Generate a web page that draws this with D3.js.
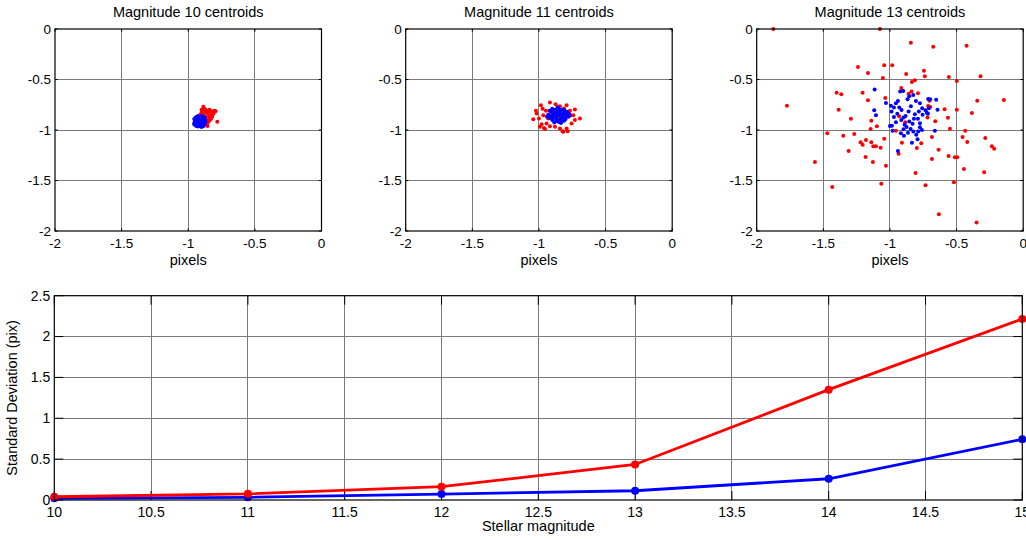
<!DOCTYPE html>
<html>
<head>
<meta charset="utf-8">
<script src="https://cdn.jsdelivr.net/npm/d3@7"></script>
<style>
	body { margin: 0; background: #fff; }
	svg { display: block; font-family: Arial, "Liberation Sans", sans-serif; }
	.grid line { stroke: #7a7a7a; stroke-width: 1; shape-rendering: crispEdges; }
</style>
</head>
<body>
<svg id="chart" width="1026" height="540"></svg>
<script>
// ---- data ----
var magnitudes = [10, 11, 12, 13, 14, 15];
var stdRed = [0.04, 0.075, 0.163, 0.435, 1.35, 2.215];
var stdBlue = [0.02, 0.033, 0.072, 0.113, 0.26, 0.743];

var scatterTitles = ["Magnitude 10 centroids", "Magnitude 11 centroids", "Magnitude 13 centroids"];
var pixelTicks = [-2, -1.5, -1, -0.5, 0];
var magTicks = [10, 10.5, 11, 11.5, 12, 12.5, 13, 13.5, 14, 14.5, 15];
var stdTicks = [0, 0.5, 1, 1.5, 2, 2.5];

var red10 = [[-0.887,-0.769],[-0.88,-0.79],[-0.87,-0.80],[-0.86,-0.81],[-0.85,-0.82],[-0.84,-0.80],[-0.83,-0.82],
	[-0.82,-0.83],[-0.80,-0.81],[-0.795,-0.815],[-0.81,-0.84],[-0.83,-0.85],[-0.85,-0.86],[-0.84,-0.88],[-0.82,-0.87],
	[-0.86,-0.90],[-0.85,-0.92],[-0.87,-0.94],[-0.86,-0.95],[-0.89,-0.84],[-0.90,-0.83],[-0.91,-0.85],[-0.92,-0.86],
	[-0.935,-0.87],[-0.88,-0.86],[-0.87,-0.88],[-0.84,-0.905],[-0.83,-0.89],[-0.782,-0.918],[-0.86,-0.83],
	[-0.875,-0.82],[-0.90,-0.80],[-0.895,-0.82],[-0.855,-0.96],[-0.815,-0.815]];
var blue10 = [[-0.916,-0.916],[-0.90,-0.90],[-0.93,-0.93],[-0.95,-0.91],[-0.88,-0.92],[-0.92,-0.87],[-0.91,-0.96],
	[-0.94,-0.88],[-0.89,-0.88],[-0.885,-0.95],[-0.945,-0.95],[-0.955,-0.93],[-0.875,-0.90],[-0.90,-0.97],
	[-0.93,-0.865],[-0.90,-0.86],[-0.875,-0.935],[-0.955,-0.89],[-0.925,-0.965],[-0.895,-0.94],[-0.935,-0.905],
	[-0.905,-0.925],[-0.92,-0.895],[-0.885,-0.905],[-0.945,-0.875],[-0.875,-0.875],[-0.94,-0.96],[-0.885,-0.96],
	[-0.955,-0.945],[-0.87,-0.915],[-0.915,-0.94],[-0.93,-0.95]];

var red11 = [[-1.0225,-0.81],[-0.985,-0.754],[-0.9725,-0.79],[-0.9175,-0.727],[-0.875,-0.744],[-0.8425,-0.764],
	[-0.7925,-0.754],[-0.7675,-0.81],[-0.73,-0.797],[-0.7875,-0.836],[-0.6925,-0.886],[-1.0425,-0.893],[-1.0,-0.886],
	[-0.98,-0.942],[-0.9925,-0.969],[-0.9625,-0.979],[-0.9425,-0.936],[-0.9175,-0.962],[-0.88,-0.969],[-0.8425,-0.985],
	[-0.8225,-1.012],[-0.7925,-0.985],[-0.785,-1.012],[-0.755,-0.936],[-0.9675,-0.853],[-0.9475,-0.81],[-0.7625,-0.853],
	[-0.7425,-0.853],[-0.8925,-0.803],[-0.8125,-0.787],[-0.93,-0.886],[-0.73,-0.902],[-1.0175,-0.836],[-0.954,-0.991],
	[-0.817,-1.018]];
var blue11 = [[-0.855,-0.85],[-0.87,-0.83],[-0.84,-0.87],[-0.82,-0.84],[-0.89,-0.86],[-0.88,-0.80],[-0.85,-0.79],
	[-0.83,-0.80],[-0.81,-0.82],[-0.79,-0.85],[-0.78,-0.87],[-0.80,-0.89],[-0.82,-0.91],[-0.85,-0.92],[-0.87,-0.91],
	[-0.90,-0.90],[-0.92,-0.88],[-0.93,-0.85],[-0.91,-0.82],[-0.90,-0.79],[-0.86,-0.775],[-0.84,-0.815],[-0.86,-0.81],
	[-0.88,-0.845],[-0.90,-0.87],[-0.87,-0.885],[-0.84,-0.895],[-0.82,-0.875],[-0.80,-0.86],[-0.83,-0.855],
	[-0.865,-0.865],[-0.845,-0.835],[-0.875,-0.815],[-0.895,-0.835],[-0.915,-0.86],[-0.94,-0.87],[-0.775,-0.84],
	[-0.81,-0.80],[-0.835,-0.93],[-0.885,-0.925],[-0.86,-0.90],[-0.81,-0.905],[-0.79,-0.82],[-0.92,-0.81],
	[-0.895,-0.885],[-0.77,-0.86]];

var red13 = [[-1.875,0],[-1.075,0],[-0.843,-0.135],[-0.675,-0.175],[-0.425,-0.165],[-1.24,-0.376],[-1.165,-0.436],
	[-1.043,-0.36],[-0.983,-0.36],[-1.053,-0.485],[-0.878,-0.446],[-0.745,-0.413],[-0.738,-0.469],[-0.558,-0.475],
	[-0.498,-0.515],[-0.32,-0.469],[-0.835,-0.525],[-0.813,-0.508],[-0.915,-0.584],[-0.838,-0.62],[-0.86,-0.64],
	[-0.79,-0.637],[-1.4,-0.63],[-1.365,-0.647],[-1.205,-0.63],[-1.035,-0.683],[-1.165,-0.706],[-1.773,-0.759],
	[-1.385,-0.8],[-0.703,-0.71],[-0.713,-0.762],[-0.698,-0.772],[-0.59,-0.795],[-0.498,-0.8],[-0.345,-0.71],
	[-0.145,-0.703],[-0.385,-0.832],[-1.293,-0.888],[-1.14,-0.908],[-1.145,-0.99],[-1.098,-0.964],[-0.93,-0.865],
	[-0.885,-0.924],[-0.718,-0.875],[-0.66,-0.914],[-0.565,-0.878],[-0.55,-0.987],[-0.435,-1.007],[-1.47,-1.033],
	[-1.35,-1.056],[-1.268,-1.04],[-1.043,-1.086],[-0.955,-1.007],[-0.91,-1.125],[-0.765,-1.132],[-0.685,-1.069],
	[-0.635,-1.195],[-0.455,-1.069],[-0.42,-1.119],[-0.285,-1.079],[-0.235,-1.162],[-0.218,-1.185],[-1.22,-1.122],
	[-1.205,-1.145],[-1.18,-1.099],[-1.14,-1.122],[-1.125,-1.162],[-1.105,-1.162],[-1.07,-1.175],[-1.31,-1.208],
	[-1.183,-1.267],[-1.128,-1.317],[-1.03,-1.353],[-0.935,-1.234],[-0.798,-1.178],[-0.685,-1.287],[-0.56,-1.257],
	[-0.513,-1.27],[-0.495,-1.27],[-0.445,-1.386],[-1.563,-1.317],[-1.433,-1.564],[-1.065,-1.531],[-0.808,-1.426],
	[-0.733,-1.548],[-0.52,-1.518],[-0.293,-1.419],[-0.633,-1.835],[-0.35,-1.917]];
var blue13 = [[-1.115,-0.6],[-1.118,-0.805],[-1.105,-0.855],[-1.03,-0.733],[-0.993,-0.759],[-0.97,-0.776],
	[-0.955,-0.736],[-0.93,-0.776],[-0.94,-0.713],[-0.923,-0.62],[-0.9,-0.614],[-0.868,-0.696],[-0.855,-0.667],
	[-0.825,-0.653],[-0.843,-0.766],[-0.805,-0.713],[-0.775,-0.736],[-0.758,-0.785],[-0.755,-0.848],[-0.733,-0.805],
	[-0.713,-0.693],[-0.698,-0.696],[-0.653,-0.7],[-0.643,-0.799],[-0.663,-1.007],[-0.708,-0.785],[-0.723,-0.828],
	[-0.715,-0.838],[-0.988,-0.818],[-0.97,-0.871],[-0.985,-0.957],[-1.0,-0.96],[-0.98,-1.007],[-0.955,-0.924],
	[-0.915,-0.901],[-0.898,-0.875],[-0.883,-0.861],[-0.89,-0.947],[-0.875,-0.97],[-0.898,-0.993],[-0.918,-1.033],
	[-0.895,-1.056],[-0.865,-1.026],[-0.845,-0.99],[-0.83,-0.937],[-0.855,-0.917],[-0.82,-0.888],[-0.813,-0.845],
	[-0.79,-0.888],[-0.775,-0.934],[-0.775,-0.974],[-0.788,-1.016],[-0.803,-1.046],[-0.835,-1.125],[-0.793,-1.092],
	[-0.76,-1.0],[-0.825,-1.016],[-0.94,-1.208],[-0.86,-0.818],[-0.913,-0.802],[-0.945,-0.838],[-0.783,-0.818]];

var scatterReds = [red10, red11, red13];
var scatterBlues = [blue10, blue11, blue13];

// ---- layout ----
var svg = d3.select("#chart");
var fmt = function(d) { return String(d); };
var panelLefts = [55, 405.7, 756.7];
var panelW = 266.5, panelTop = 29, panelH = 202;

function drawBox(g, w, h, xScale, yScale, xTicks, yTicks, tickLen) {
	// grid
	g.append("g").attr("class", "grid")
		.selectAll("line.v").data(xTicks.slice(1, -1)).enter().append("line")
		.attr("x1", function(d) { return xScale(d); }).attr("x2", function(d) { return xScale(d); })
		.attr("y1", 0).attr("y2", h);
	g.append("g").attr("class", "grid")
		.selectAll("line.h").data(yTicks.slice(1, -1)).enter().append("line")
		.attr("y1", function(d) { return yScale(d); }).attr("y2", function(d) { return yScale(d); })
		.attr("x1", 0).attr("x2", w);

	// inward ticks on all sides
	var ticks = g.append("g").attr("stroke", "#000").attr("stroke-width", 1);
	xTicks.forEach(function(d) {
		ticks.append("line").attr("x1", xScale(d)).attr("x2", xScale(d)).attr("y1", h).attr("y2", h - tickLen);
		ticks.append("line").attr("x1", xScale(d)).attr("x2", xScale(d)).attr("y1", 0).attr("y2", tickLen);
	});
	yTicks.forEach(function(d) {
		ticks.append("line").attr("y1", yScale(d)).attr("y2", yScale(d)).attr("x1", 0).attr("x2", tickLen);
		ticks.append("line").attr("y1", yScale(d)).attr("y2", yScale(d)).attr("x1", w).attr("x2", w - tickLen);
	});
}

function drawFrame(g, w, h) {
	g.append("rect").attr("width", w).attr("height", h)
		.attr("fill", "none").attr("stroke", "#000").attr("stroke-width", 1.2);
}

function tickLabels(g, w, h, xScale, yScale, xTicks, yTicks, size) {
	g.append("g").selectAll("text").data(xTicks).enter().append("text")
		.attr("x", function(d) { return xScale(d); })
		.attr("y", h + 17)
		.attr("text-anchor", "middle")
		.attr("font-size", size)
		.text(fmt);
	g.append("g").selectAll("text").data(yTicks).enter().append("text")
		.attr("x", -4)
		.attr("y", function(d) { return yScale(d); })
		.attr("dy", "0.35em")
		.attr("text-anchor", "end")
		.attr("font-size", size)
		.text(fmt);
}

// ---- scatter panels ----
scatterTitles.forEach(function(title, i) {
	var g = svg.append("g").attr("transform", "translate(" + panelLefts[i] + "," + panelTop + ")");
	var x = d3.scaleLinear().domain([-2, 0]).range([0, panelW]);
	var y = d3.scaleLinear().domain([-2, 0]).range([panelH, 0]);

	drawBox(g, panelW, panelH, x, y, pixelTicks, pixelTicks, 2.7);

	g.append("g").selectAll("circle").data(scatterReds[i]).enter().append("circle")
		.attr("cx", function(d) { return x(d[0]); })
		.attr("cy", function(d) { return y(d[1]); })
		.attr("r", 2)
		.attr("fill", "#ff0000");
	g.append("g").selectAll("circle").data(scatterBlues[i]).enter().append("circle")
		.attr("cx", function(d) { return x(d[0]); })
		.attr("cy", function(d) { return y(d[1]); })
		.attr("r", 2)
		.attr("fill", "#0000ff");

	drawFrame(g, panelW, panelH);
	tickLabels(g, panelW, panelH, x, y, pixelTicks, pixelTicks, 13.5);

	g.append("text").attr("x", panelW / 2).attr("y", -12)
		.attr("text-anchor", "middle").attr("font-size", 14.5).text(title);
	g.append("text").attr("x", panelW / 2).attr("y", panelH + 34)
		.attr("text-anchor", "middle").attr("font-size", 14.5).text("pixels");
});

// ---- std deviation panel ----
var bLeft = 54.3, bTop = 295.7, bW = 968, bH = 204.3;
var gb = svg.append("g").attr("transform", "translate(" + bLeft + "," + bTop + ")");
var xb = d3.scaleLinear().domain([10, 15]).range([0, bW]);
var yb = d3.scaleLinear().domain([0, 2.5]).range([bH, 0]);

drawBox(gb, bW, bH, xb, yb, magTicks, stdTicks, 9);

var line = d3.line()
	.x(function(d, i) { return xb(magnitudes[i]); })
	.y(function(d) { return yb(d); });

[[stdBlue, "#0000ff"], [stdRed, "#ff0000"]].forEach(function(s) {
	gb.append("path").datum(s[0])
		.attr("d", line)
		.attr("fill", "none")
		.attr("stroke", s[1])
		.attr("stroke-width", 2.8);
	gb.append("g").selectAll("circle").data(s[0]).enter().append("circle")
		.attr("cx", function(d, i) { return xb(magnitudes[i]); })
		.attr("cy", function(d) { return yb(d); })
		.attr("r", 4)
		.attr("fill", s[1]);
});

drawFrame(gb, bW, bH);
tickLabels(gb, bW, bH, xb, yb, magTicks, stdTicks, 14);

gb.append("text").attr("x", bW / 2).attr("y", bH + 31.5)
	.attr("text-anchor", "middle").attr("font-size", 14.5).text("Stellar magnitude");
gb.append("text")
	.attr("transform", "translate(" + (-37) + "," + (bH / 2) + ") rotate(-90)")
	.attr("text-anchor", "middle").attr("font-size", 14.5).text("Standard Deviation (pix)");
</script>
</body>
</html>
